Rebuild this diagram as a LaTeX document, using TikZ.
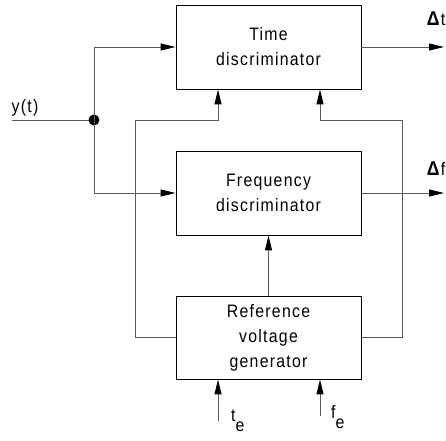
\documentclass[tikz,border=0pt]{standalone}
\usepackage{fontspec}
\setmainfont{Liberation Sans}[FakeStretch=0.88,LetterSpace=7]
\usetikzlibrary{arrows.meta}
\definecolor{linegray}{RGB}{90,90,90}
\begin{document}
\begin{tikzpicture}[x=1pt,y=-1pt,
  blk/.style={draw=black,line width=0.9pt,minimum width=185pt,inner sep=0pt,align=center,
    font=\fontsize{18}{25}\selectfont},
  conn/.style={draw=linegray,line width=1pt},
  arr/.style={conn,-{Triangle[length=15pt,width=7pt,color=black,fill=black]}},
  lbl/.style={font=\fontsize{18}{22}\selectfont,inner sep=0pt}]
\useasboundingbox (0,0) rectangle (446,440);
\node[blk,minimum height=84pt] (time) at (268.5,47) {\raisebox{-3pt}{\parbox{185pt}{\centering Time\\discriminator}}};
\node[blk,minimum height=84pt] (freq) at (268.5,193) {\raisebox{-3pt}{\parbox{185pt}{\centering Frequency\\discriminator}}};
\node[blk,minimum height=83pt] (ref) at (268.5,337.5) {\raisebox{-3pt}{\parbox{185pt}{\centering Reference\\voltage\\generator}}};
\coordinate (in) at (12,120);
\coordinate (dot) at (94,120);
\coordinate (outt) at (444,47);
\coordinate (outf) at (444,193);
\coordinate (te) at (218,421);
\coordinate (fe) at (320,416);
% input
\draw[conn] (in) -- (dot);
\fill[black] (dot) circle (5.5pt);
\draw[arr] (dot) |- (time.west);
\draw[arr] (dot) |- (freq.west);
% outputs
\draw[arr] (time.east) -- (outt);
\draw[arr] (freq.east) -- (outf);
% feedback
\draw[arr] (ref.west) -| (135,120) -| (time.south -| te);
\draw[arr] (ref.east) -| (402,120) -| (time.south -| fe);
\draw[arr] (ref.north) -- (freq.south);
% external inputs
\draw[arr] (te) -- (ref.south -| te);
\draw[arr] (fe) -- (ref.south -| fe);
% labels
\node[lbl] (ylab) at (25,108) {y(t)};
\node[lbl] (dtlab) at (436,19) {{\fontsize{20}{22}\selectfont\textbf{Δ}}t};
\node[lbl] (dflab) at (436,169) {{\fontsize{20}{22}\selectfont\textbf{Δ}}f};
\node[lbl,anchor=north west] (telab) at (231,410) {t\raisebox{-10pt}{e}};
\node[lbl,anchor=north west] (felab) at (331,405) {f\raisebox{-10pt}{e}};
\end{tikzpicture}
\end{document}
